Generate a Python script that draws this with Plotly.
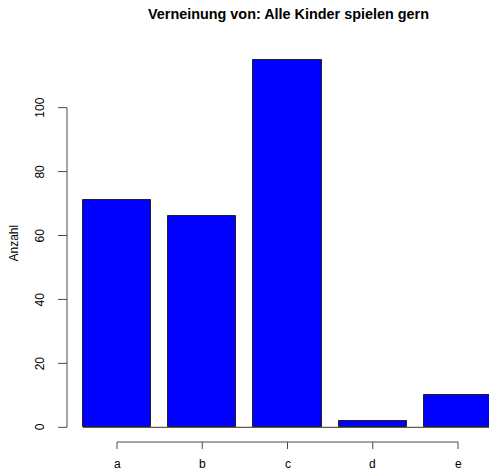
import plotly.graph_objects as go

# Answer categories and how often each was chosen
categories = ["a", "b", "c", "d", "e"]
counts = [71, 66, 115, 2, 10]
y_ticks = [0, 20, 40, 60, 80, 100]

title = "Verneinung von: Alle Kinder spielen gern"
y_label = "Anzahl"

W, H = 489, 470
L, R, T, B = 67, 0, 45, 28
plot_w = W - L - R
plot_h = H - T - B

FONT = "Liberation Sans, Arial, Helvetica, sans-serif"
AXIS_COLOR = "#4a4a4a"

xpos = list(range(len(categories)))

fig = go.Figure(
    go.Bar(
        x=xpos,
        y=counts,
        width=0.8,
        marker=dict(color="#0000FF", line=dict(color="#222222", width=1)),
        hoverinfo="skip",
    )
)

shapes = []
annotations = []

# baseline along y = 0 beneath the bars
shapes.append(dict(type="line", xref="x", yref="y", x0=-0.4, x1=4.6, y0=0, y1=0,
                   line=dict(color="#333333", width=1), layer="below"))

# y axis: line from first to last tick, outward ticks, rotated labels
shapes.append(dict(type="line", xref="paper", yref="y", x0=0, x1=0,
                   y0=y_ticks[0], y1=y_ticks[-1], line=dict(color=AXIS_COLOR, width=1)))
for v in y_ticks:
    shapes.append(dict(type="line", xref="paper", yref="y", x0=-9 / plot_w, x1=0,
                       y0=v, y1=v, line=dict(color=AXIS_COLOR, width=1)))
    annotations.append(dict(xref="paper", yref="y", x=-27 / plot_w, y=v, text=str(v),
                            showarrow=False, textangle=-90, xanchor="center", yanchor="middle",
                            font=dict(family=FONT, size=12, color="#000000")))

# x axis: line from first to last category, ticks and labels below
shapes.append(dict(type="line", xref="x", yref="paper", x0=xpos[0], x1=xpos[-1],
                   y0=0, y1=0, line=dict(color=AXIS_COLOR, width=1)))
for xp, c in zip(xpos, categories):
    shapes.append(dict(type="line", xref="x", yref="paper", x0=xp, x1=xp,
                       y0=0, y1=-7 / plot_h, line=dict(color=AXIS_COLOR, width=1)))
    annotations.append(dict(xref="x", yref="paper", x=xp, y=-21.5 / plot_h, text=c,
                            showarrow=False, xanchor="center", yanchor="middle",
                            font=dict(family=FONT, size=12, color="#000000")))

# axis title
annotations.append(dict(xref="paper", yref="paper", x=-54 / plot_w, y=0.5, text=y_label,
                        showarrow=False, textangle=-90, xanchor="center", yanchor="middle",
                        font=dict(family=FONT, size=12, color="#000000")))

# main title
annotations.append(dict(xref="paper", yref="paper", x=(288 - L) / plot_w,
                        y=(H - B - 14) / plot_h, text="<b>" + title + "</b>",
                        showarrow=False, xanchor="center", yanchor="middle",
                        font=dict(family=FONT, size=14.4, color="#000000")))

x_left = (L - 117) / 85.25
x_right = (W - R - 117) / 85.25

fig.update_layout(
    width=W,
    height=H,
    margin=dict(l=L, r=R, t=T, b=B, pad=0),
    paper_bgcolor="white",
    plot_bgcolor="white",
    showlegend=False,
    bargap=0,
    xaxis=dict(visible=False, range=[x_left, x_right], fixedrange=True),
    yaxis=dict(visible=False, range=[-4.6, 119.6], fixedrange=True),
    shapes=shapes,
    annotations=annotations,
)

fig.write_html("out.html", config={"displayModeBar": False})
